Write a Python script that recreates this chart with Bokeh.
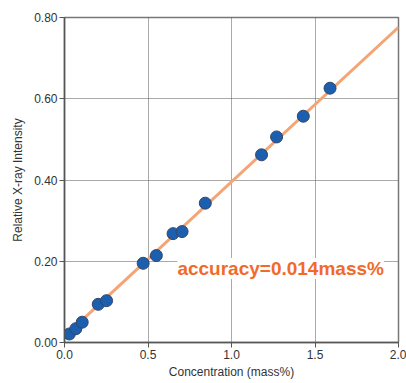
from bokeh.plotting import figure
from bokeh.models import Range1d, FixedTicker, NumeralTickFormatter, Label
from bokeh.embed import file_html
from bokeh.resources import INLINE

# measured standards
conc = [0.029, 0.068, 0.106, 0.202, 0.252, 0.471, 0.55, 0.65, 0.704, 0.843, 1.18, 1.27, 1.43, 1.59]
intensity = [0.021, 0.034, 0.050, 0.094, 0.103, 0.195, 0.214, 0.268, 0.273, 0.343, 0.462, 0.506, 0.557, 0.626]
# calibration line
fit_x = [0.0, 2.0]
fit_y = [0.015, 0.776]
x_ticks = [0.0, 0.5, 1.0, 1.5, 2.0]
y_ticks = [0.0, 0.2, 0.4, 0.6, 0.8]
note = "accuracy=0.014mass%"

FONT = "Liberation Sans"

p = figure(width=406, height=383, output_backend="svg", toolbar_location=None,
           x_range=Range1d(0, 2.0), y_range=Range1d(0, 0.8),
           min_border_left=64, min_border_right=8, min_border_top=17, min_border_bottom=41)
p.frame_width = 334
p.frame_height = 325

p.outline_line_color = "#777777"
p.outline_line_width = 1.5
p.background_fill_color = "white"

p.xgrid.ticker = FixedTicker(ticks=x_ticks)
p.ygrid.ticker = FixedTicker(ticks=y_ticks)
for g in (p.xgrid, p.ygrid):
    g.grid_line_color = "#555555"
    g.grid_line_dash = "1 1"
    g.grid_line_width = 1

p.xaxis.ticker = FixedTicker(ticks=x_ticks)
p.yaxis.ticker = FixedTicker(ticks=y_ticks)
p.xaxis.formatter = NumeralTickFormatter(format="0.0")
p.yaxis.formatter = NumeralTickFormatter(format="0.00")
p.xaxis.axis_label = "Concentration (mass%)"
p.yaxis.axis_label = "Relative X-ray Intensity"
for ax in (p.xaxis, p.yaxis):
    ax.axis_line_color = "#555555"
    ax.axis_line_width = 1.5
    ax.major_tick_line_color = "#555555"
    ax.major_tick_in = 0
    ax.major_tick_out = 5
    ax.minor_tick_line_color = None
    ax.major_label_text_font = FONT
    ax.major_label_text_font_size = "12px"
    ax.major_label_text_color = "#333333"
    ax.axis_label_text_font = FONT
    ax.axis_label_text_font_size = "12px"
    ax.axis_label_text_font_style = "normal"
    ax.axis_label_text_color = "#333333"
p.xaxis.major_label_standoff = 2
p.xaxis.axis_label_standoff = 3
p.yaxis.major_label_standoff = 2
p.yaxis.axis_label_standoff = 6

p.line(fit_x, fit_y, line_color="#f5a474", line_width=3)
p.scatter(conc, intensity, size=12, fill_color="#1c5fae", line_color="#34456a", line_width=1)

p.add_layout(Label(x=0.676, y=0.182, text=note, text_font=FONT, text_font_style="bold",
                   text_font_size="19px", text_color="#f26a2a", text_baseline="middle",
                   background_fill_color="white"))

open("out.html", "w").write(file_html(p, INLINE))
